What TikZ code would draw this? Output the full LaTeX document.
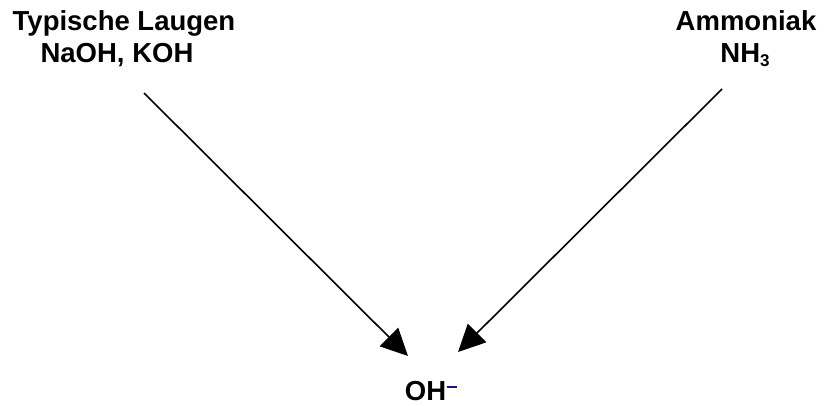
\documentclass[tikz,border=0pt]{standalone}
\usepackage{fontspec}
\setmainfont{Liberation Sans}
\usetikzlibrary{arrows.meta}
\definecolor{minusblue}{RGB}{20,20,140}
\begin{document}
\begin{tikzpicture}[x=1pt,y=-1pt,
  lbl/.style={font=\fontsize{27.5}{34}\selectfont\bfseries, align=center, inner sep=0pt, anchor=base},
  arr/.style={line width=1.6pt, -{Triangle[length=27pt,width=26pt]}}]
\useasboundingbox (0,0) rectangle (825,405);
\node[lbl] (t1) at (124,30) {Typische Laugen};
\node[lbl] (t2) at (117,62) {NaOH, KOH};
\node[lbl] (a1) at (746,30) {Ammoniak};
\node[lbl] (a2) at (745,62) {NH\raisebox{-4pt}{\fontsize{17}{20}\selectfont 3}};
\node[lbl] (oh) at (431,400) {OH\hspace{1pt}\textcolor{minusblue}{\rule[12pt]{10pt}{2.2pt}}};
\coordinate (ls) at (144,93);
\coordinate (le) at (408,356);
\coordinate (rs) at (722,89);
\coordinate (re) at (458,352);
\draw[arr] (ls) -- (le);
\draw[arr] (rs) -- (re);
\end{tikzpicture}
\end{document}
